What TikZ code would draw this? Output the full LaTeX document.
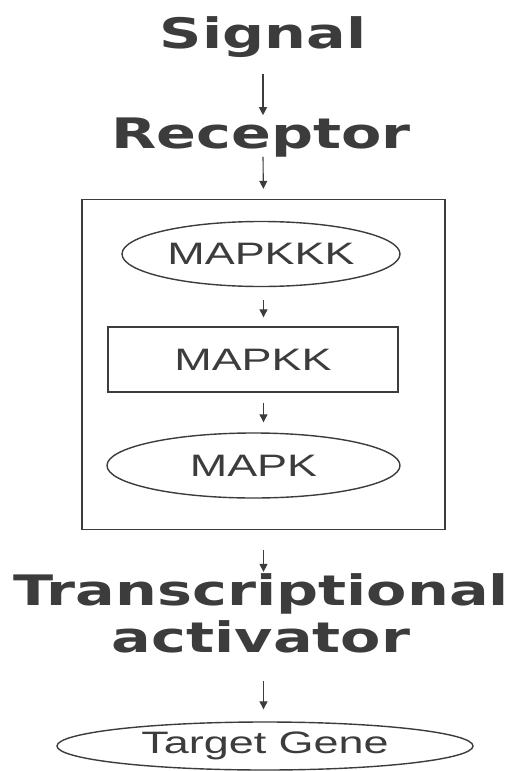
\documentclass[tikz,border=0pt]{standalone}
\usepackage{fontspec}
\usetikzlibrary{arrows.meta,shapes.geometric}
\newfontfamily\headfont[FakeStretch=1.4]{DejaVu Sans}
\newfontfamily\labelfont[FakeStretch=1.45]{Liberation Sans}
\definecolor{ink}{HTML}{3C3C3C}

\begin{document}
\begin{tikzpicture}[x=1pt,y=-1pt,
    head/.style={text=ink,font=\headfont\bfseries\fontsize{42}{47}\selectfont,inner sep=0pt},
    enzyme/.style={draw=ink,line width=1.4pt,text=ink,font=\labelfont\fontsize{31}{34}\selectfont,inner sep=0pt},
    arr/.style={draw=ink,line width=1.1pt,-{Triangle[length=8pt,width=8pt]}}]
    \useasboundingbox (0,0) rectangle (526,771);
    \node [head,anchor=base] (signal) at (263,48) {Signal};
    \node [head,anchor=base] (receptor) at (261,148) {Receptor};
    \node [draw=ink,line width=1.4pt,minimum width=363,minimum height=330] (cascade) at (263.5,364.5) {};
    \node [enzyme,ellipse,minimum width=278,minimum height=65] (mapkkk) at (261,254) {\makebox[0pt]{MAPKKK}};
    \node [enzyme,rectangle,minimum width=290,minimum height=65] (mapkk) at (253,359.5) {MAPKK};
    \node [enzyme,ellipse,minimum width=293,minimum height=65] (mapk) at (253.5,465.5) {\makebox[0pt]{MAPK}};
    % base of a two-line node is its last line
    \node [head,align=center,anchor=base] (activator) at (261,652) {Transcriptional\\activator};
    \node [enzyme,ellipse,minimum width=416,minimum height=48] (target) at (265,746) {\makebox[0pt]{Target Gene}};
    \draw [arr,shorten <=17pt,shorten >=2pt] (signal.south) -- (signal.south |- receptor.north);
    \draw [arr,shorten >=10pt] (signal.south |- receptor.south) -- (cascade.north);
    \draw [arr,shorten <=13pt,shorten >=9pt] (cascade.center |- mapkkk.south) -- (cascade.center |- mapkk.north);
    \draw [arr,shorten <=10pt,shorten >=10pt] (cascade.center |- mapkk.south) -- (cascade.center |- mapk.north);
    \draw [arr,shorten <=20pt,shorten >=1pt] (cascade.south) -- (cascade.south |- activator.north);
    \draw [arr,shorten <=28pt,shorten >=12pt] (cascade.south |- activator.south) -- (cascade.south |- target.north);
\end{tikzpicture}
\end{document}
